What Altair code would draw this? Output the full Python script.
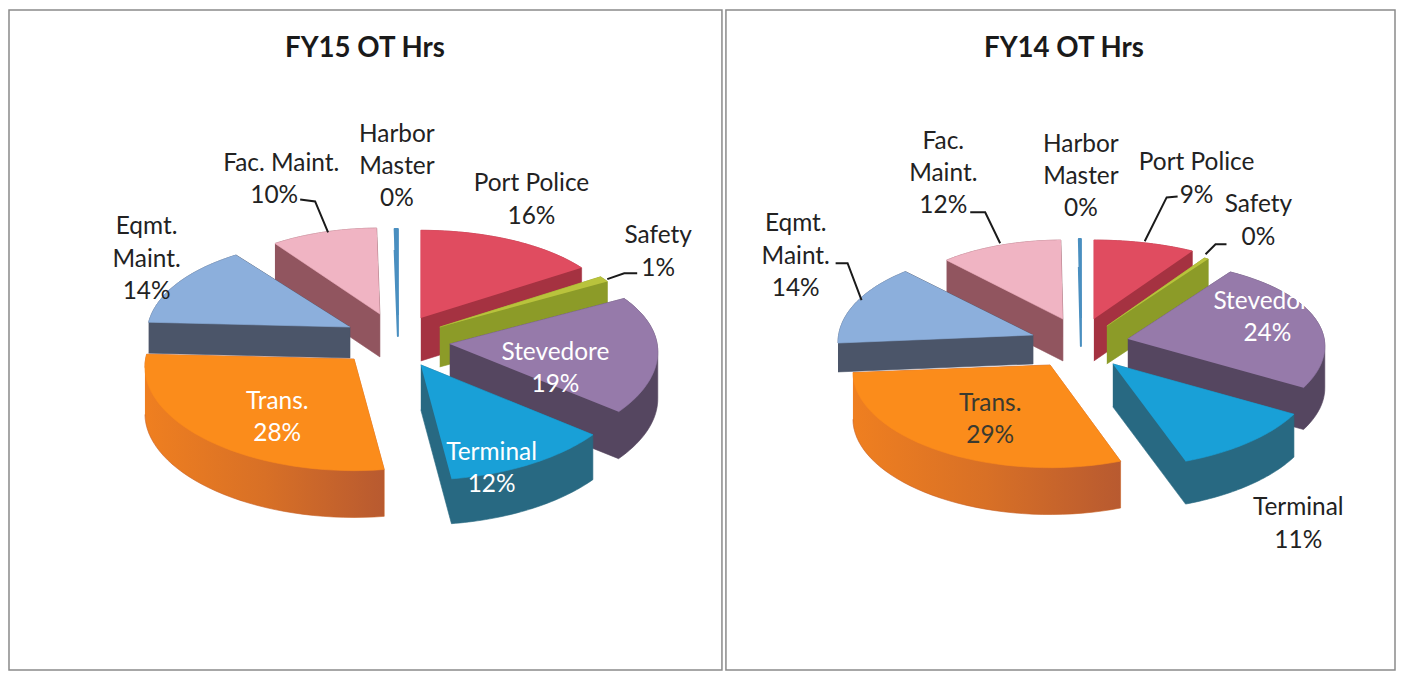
import numpy as np
import pandas as pd
import altair as alt

# ---- values (percent of OT hours, clockwise from 12 o'clock)
slices = ["Port Police", "Safety", "Stevedore", "Terminal", "Trans.", "Eqmt. Maint.", "Fac. Maint.", "Harbor Master"]
fy15_share = [16, 1, 19, 12, 28, 14, 10, 0.3]
fy14_share = [9, 0.4, 24, 11, 29, 14, 12, 0.2]

# ---- styling
top_colors = ["#e04c60", "#b9c33c", "#967aaa", "#19a0d7", "#fb8c1b", "#8cafdc", "#f0b4c3", "#4a8fc0"]
trans_side = alt.LinearGradient(gradient="linear", x1=0, x2=1, y1=0, y2=0,
                                stops=[alt.GradientStop(color="#ef7f20", offset=0),
                                       alt.GradientStop(color="#d87026", offset=0.5),
                                       alt.GradientStop(color="#b85a30", offset=1)])
side_colors = ["#a53241", "#8c9b28", "#554660", "#286982", trans_side, "#4b5569", "#91555f", "#4a8fc0"]
edge_colors = ["#a53241", "#8c9b28", "#554660", "#286982", "#c85f23", "#4b5569", "#91555f", "#4a8fc0"]
draw_order = [7, 6, 0, 1, 5, 2, 4, 3]

# ---- layout in page pixels: exploded tip x, tip y, radius x, radius y, depth
fy15_geom = [(421, 317, 200, 100, 43), (440, 326, 200, 100, 40), (450, 343, 208, 100, 47), (421, 364, 212, 103, 45),
             (354, 358, 209, 100, 47), (350, 326, 203, 100, 31), (380, 313, 187, 98, 43), (398, 314, 187, 98, 21)]
fy14_geom = [(1094, 318, 197, 90, 42), (1107, 325, 195, 90, 38), (1128, 338, 197, 90, 42), (1113, 363, 203, 93, 43),
             (1050, 364, 197, 92, 47), (1033, 334, 195, 97, 29), (1063, 318, 178, 90, 42), (1081, 317, 178, 90, 28)]
PERSP_X, PERSP_Y = 0.08, 0.12

INK = "#222222"
fy15_labels = [("Harbor\nMaster\n0%", 397, 133, INK), ("Fac. Maint.", 281, 163, INK), ("10%", 274, 195, INK),
               ("Port Police\n16%", 532, 183, INK), ("Safety\n1%", 659, 235, INK), ("Eqmt.\nMaint.\n14%", 146, 226, INK),
               ("Trans.\n28%", 277, 401, "#ffffff"), ("Stevedore\n19%", 556, 352, "#ffffff"),
               ("Terminal\n12%", 492, 452, "#ffffff")]
fy14_labels = [("Harbor\nMaster\n0%", 1081, 143, INK), ("Fac.\nMaint.\n12%", 943, 140, INK),
               ("Port Police\n9%", 1197, 162, INK), ("Safety\n0%", 1259, 204, INK), ("Eqmt.\nMaint.\n14%", 795, 223, INK),
               ("Stevedore\n24%", 1268, 301, "#ffffff"), ("Trans.\n29%", 990, 403, "#3a3a30"),
               ("Terminal\n11%", 1299, 508, INK)]
fy15_leaders = [[(300, 198), (315, 200), (328, 231)], [(638, 272), (625, 272), (608, 278)]]
fy14_leaders = [[(1178, 195), (1167, 196), (1145, 240)], [(1227, 243), (1216, 243), (1206, 253)],
                [(970, 211), (985, 211), (1000, 242)], [(835, 262), (847, 262), (861, 299)]]


def hull(pts):
    pts = sorted(set(map(tuple, np.round(pts, 3))))
    def half(seq):
        out = []
        for p in seq:
            while len(out) > 1 and (out[-1][0]-out[-2][0])*(p[1]-out[-2][1]) - (out[-1][1]-out[-2][1])*(p[0]-out[-2][0]) <= 0:
                out.pop()
            out.append(p)
        return out[:-1]
    return np.array(half(pts) + half(pts[::-1]))


def poly_layer(points, fill, edge, width, ox, oy, scales):
    df = pd.DataFrame({"x": points[:, 0] - ox, "y": points[:, 1] - oy, "i": range(len(points))})
    return alt.Chart(df).mark_line(fill=fill, stroke=edge, strokeWidth=width, strokeJoin="round").encode(
        x=alt.X("x:Q", scale=scales[0], axis=None), y=alt.Y("y:Q", scale=scales[1], axis=None), order="i:Q")


def panel(title, share, geom, labels, leaders, ox, oy, w, h):
    sx = alt.Scale(domain=[0, w], nice=False, zero=False)
    sy = alt.Scale(domain=[0, h], nice=False, zero=False, reverse=True)
    edges = np.concatenate([[0], np.cumsum(share)]) / np.sum(share) * 2 * np.pi
    layers = []
    for k in draw_order:
        tx, ty, rx, ry, d = geom[k]
        a = np.linspace(edges[k], edges[k + 1], 40)
        px = tx + rx * np.sin(a) * (1 - PERSP_X * np.cos(a))
        py = ty - ry * np.cos(a) * (1 - PERSP_Y * np.cos(a))
        top = np.vstack([[tx, ty], np.column_stack([px, py])])
        body = hull(np.vstack([top, top + [0, d]]))
        width = 2 if k == 7 else 0.6
        layers.append(poly_layer(body, side_colors[k], edge_colors[k], width, ox, oy, (sx, sy)))
        layers.append(poly_layer(top, top_colors[k], top_colors[k], width, ox, oy, (sx, sy)))
    for seg in leaders:
        seg = np.array(seg, float)
        df = pd.DataFrame({"x": seg[:, 0] - ox, "y": seg[:, 1] - oy, "i": range(len(seg))})
        layers.append(alt.Chart(df).mark_line(color="#1a1a1a", strokeWidth=2).encode(
            x=alt.X("x:Q", scale=sx, axis=None), y=alt.Y("y:Q", scale=sy, axis=None), order="i:Q"))
    ldf = pd.DataFrame([{"t": t, "x": x - ox, "y": y - oy, "c": c} for t, x, y, c in labels])
    layers.append(alt.Chart(ldf).mark_text(font="Lato", fontSize=24.5, lineBreak="\n", lineHeight=32.5,
                                           align="center", baseline="middle").encode(
        x=alt.X("x:Q", scale=sx, axis=None), y=alt.Y("y:Q", scale=sy, axis=None),
        text="t:N", color=alt.Color("c:N", scale=None)))
    tdf = pd.DataFrame({"t": [title], "x": [title_x[title] - ox], "y": [47 - oy]})
    layers.append(alt.Chart(tdf).mark_text(font="Lato", fontSize=27.7, fontWeight="bold", color="#1a1a1a").encode(
        x=alt.X("x:Q", scale=sx, axis=None), y=alt.Y("y:Q", scale=sy, axis=None), text="t:N"))
    return alt.layer(*layers).properties(width=w, height=h)


title_x = {"FY15 OT Hrs": 365, "FY14 OT Hrs": 1064}
left = panel("FY15 OT Hrs", fy15_share, fy15_geom, fy15_labels, fy15_leaders, 8, 8, 715, 662)
right = panel("FY14 OT Hrs", fy14_share, fy14_geom, fy14_labels, fy14_leaders, 725, 8, 671, 662)

chart = alt.hconcat(left, right, spacing=2, padding={"left": 0, "top": 0, "right": 1, "bottom": 1},
                    background="#ffffff").configure_view(stroke="#8a8a8a", strokeWidth=1.5)
chart.save("out.html", embed_options={"renderer": "svg", "actions": False})
